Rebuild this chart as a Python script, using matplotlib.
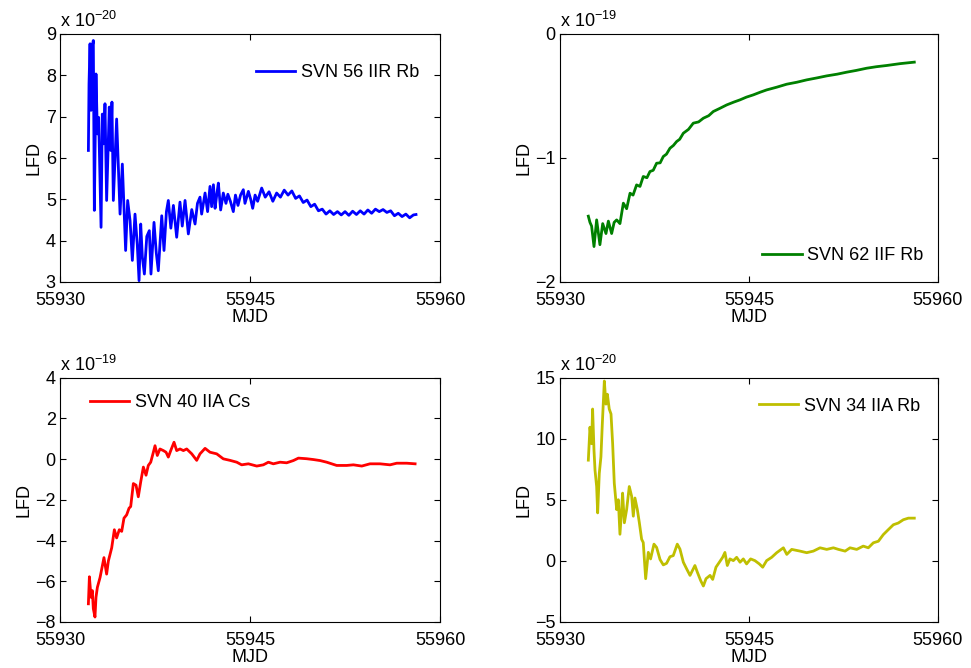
import numpy as np
import matplotlib
matplotlib.use('Agg')
import matplotlib.pyplot as plt

# values, y already in units of the axis multiplier
mjd_56 = [55932.24, 55932.29, 55932.37, 55932.45, 55932.55, 55932.63, 55932.71, 55932.84, 55932.95, 55933.05,
          55933.24, 55933.34, 55933.45, 55933.55, 55933.68, 55933.89, 55934.00, 55934.10, 55934.21, 55934.47,
          55934.74, 55934.92, 55935.18, 55935.34, 55935.53, 55935.71, 55935.92, 55936.10, 55936.24, 55936.37,
          55936.50, 55936.66, 55936.85, 55937.05, 55937.18, 55937.42, 55937.60, 55937.76, 55938.03, 55938.21,
          55938.40, 55938.55, 55938.75, 55938.95, 55939.21, 55939.47, 55939.65, 55939.87, 55940.13, 55940.40,
          55940.66, 55940.85, 55941.05, 55941.18, 55941.45, 55941.65, 55941.84, 55941.97, 55942.11, 55942.24,
          55942.37, 55942.50, 55942.68, 55942.89, 55943.10, 55943.25, 55943.45, 55943.68, 55943.85, 55944.05,
          55944.25, 55944.47, 55944.60, 55944.87, 55945.05, 55945.21, 55945.40, 55945.60, 55945.92, 55946.2,
          55946.5, 55946.8, 55947.1, 55947.4, 55947.7, 55948.0, 55948.3, 55948.6, 55948.9, 55949.2,
          55949.5, 55949.8, 55950.1, 55950.4, 55950.7, 55951.0, 55951.3, 55951.6, 55951.9, 55952.2,
          55952.5, 55952.8, 55953.1, 55953.4, 55953.7, 55954.0, 55954.3, 55954.6, 55954.9, 55955.2,
          55955.5, 55955.8, 55956.1, 55956.4, 55956.7, 55957.0, 55957.3, 55957.6, 55957.9, 55958.1]
lfd_56 = [6.18, 7.79, 8.76, 7.15, 8.70, 8.84, 4.73, 8.03, 6.58, 6.98,
          4.32, 7.06, 6.34, 7.31, 4.97, 7.23, 6.18, 7.35, 4.97, 6.94,
          4.64, 5.85, 3.76, 4.97, 4.48, 3.52, 4.64, 3.90, 3.03, 4.40,
          3.60, 3.19, 4.10, 4.24, 3.19, 4.44, 3.70, 3.27, 4.60, 3.76,
          4.70, 4.97, 4.30, 4.85, 4.08, 4.93, 4.35, 4.97, 4.16, 4.75,
          4.40, 4.90, 5.05, 4.64, 5.15, 4.70, 5.31, 4.82, 5.35, 4.78,
          5.10, 5.39, 4.74, 5.15, 4.90, 5.12, 4.95, 4.70, 5.10, 4.85,
          5.10, 5.23, 4.90, 5.19, 5.00, 4.78, 5.10, 4.95, 5.27, 5.05,
          5.18, 4.95, 5.15, 5.05, 5.22, 5.10, 5.20, 5.02, 5.08, 4.92,
          4.98, 4.82, 4.88, 4.72, 4.76, 4.64, 4.72, 4.63, 4.70, 4.62,
          4.70, 4.61, 4.71, 4.63, 4.72, 4.64, 4.74, 4.66, 4.76, 4.70,
          4.75, 4.68, 4.72, 4.60, 4.66, 4.58, 4.64, 4.55, 4.62, 4.63]

mjd_62 = [55932.25, 55932.38, 55932.51, 55932.70, 55932.91, 55933.17, 55933.39, 55933.65, 55933.84, 55934.10,
          55934.30, 55934.50, 55934.76, 55935.03, 55935.29, 55935.56, 55935.80, 55936.08, 55936.35, 55936.61,
          55936.90, 55937.14, 55937.40, 55937.67, 55937.95, 55938.20, 55938.45, 55938.73, 55939.0, 55939.26,
          55939.5, 55939.79, 55940.2, 55940.58, 55941.0, 55941.38, 55941.8, 55942.17, 55942.7, 55943.23,
          55943.8, 55944.29, 55944.8, 55945.34, 55945.9, 55946.40, 55947.2, 55947.99, 55948.8, 55949.58,
          55950.4, 55951.16, 55952.0, 55952.75, 55953.5, 55954.34, 55955.1, 55955.93, 55957.0, 55958.12]
lfd_62 = [-1.47, -1.52, -1.55, -1.715, -1.50, -1.70, -1.53, -1.61, -1.51, -1.61,
          -1.52, -1.50, -1.53, -1.365, -1.41, -1.285, -1.30, -1.218, -1.23, -1.15,
          -1.16, -1.11, -1.10, -1.043, -1.04, -0.989, -0.97, -0.922, -0.90, -0.868,
          -0.85, -0.801, -0.77, -0.72, -0.71, -0.68, -0.66, -0.626, -0.60, -0.573,
          -0.55, -0.532, -0.51, -0.492, -0.47, -0.452, -0.43, -0.406, -0.39, -0.371,
          -0.355, -0.339, -0.325, -0.309, -0.295, -0.277, -0.265, -0.255, -0.24, -0.228]

mjd_40 = [55932.24, 55932.32, 55932.45, 55932.55, 55932.63, 55932.76, 55932.84, 55932.95, 55933.16, 55933.29,
          55933.47, 55933.68, 55933.82, 55934.08, 55934.29, 55934.47, 55934.68, 55934.87, 55935.05, 55935.26,
          55935.45, 55935.58, 55935.79, 55936.00, 55936.18, 55936.37, 55936.58, 55936.79, 55936.97, 55937.16,
          55937.37, 55937.50, 55937.68, 55937.89, 55938.16, 55938.37, 55938.55, 55938.74, 55939.00, 55939.21,
          55939.47, 55939.74, 55940.00, 55940.40, 55940.79, 55941.05, 55941.45, 55941.84, 55942.37, 55942.89,
          55943.42, 55943.95, 55944.34, 55944.87, 55945.53, 55946.05, 55946.45, 55946.84, 55947.37, 55947.89,
          55948.42, 55948.82, 55949.47, 55950.00, 55950.53, 55951.05, 55951.84, 55952.63, 55953.16, 55953.82,
          55954.47, 55955.26, 55956.05, 55956.58, 55957.37, 55958.03]
lfd_40 = [-7.11, -5.78, -6.79, -6.46, -7.35, -7.76, -6.79, -6.30, -5.82, -5.41,
          -4.84, -5.65, -5.00, -4.36, -3.47, -3.87, -3.47, -3.55, -2.90, -2.74,
          -2.41, -2.33, -1.20, -1.28, -1.85, -1.12, -0.39, -0.79, -0.31, -0.15,
          0.34, 0.66, 0.18, 0.50, 0.42, 0.34, 0.10, 0.42, 0.83, 0.42,
          0.50, 0.42, 0.50, 0.26, -0.06, 0.26, 0.53, 0.34, 0.26, 0.015,
          -0.06, -0.15, -0.28, -0.23, -0.34, -0.28, -0.15, -0.23, -0.15, -0.18,
          -0.07, 0.05, 0.02, -0.02, -0.07, -0.15, -0.31, -0.31, -0.28, -0.34,
          -0.23, -0.23, -0.28, -0.20, -0.20, -0.23]

mjd_34 = [55932.25, 55932.38, 55932.51, 55932.59, 55932.70, 55932.78, 55932.91, 55932.99, 55933.12, 55933.25,
          55933.36, 55933.52, 55933.65, 55933.76, 55933.91, 55934.05, 55934.18, 55934.31, 55934.50, 55934.63,
          55934.76, 55934.89, 55934.97, 55935.11, 55935.29, 55935.50, 55935.69, 55935.82, 55935.95, 55936.14,
          55936.30, 55936.48, 55936.61, 55936.80, 55937.01, 55937.19, 55937.46, 55937.67, 55937.94, 55938.20,
          55938.46, 55938.73, 55938.99, 55939.31, 55939.52, 55939.79, 55940.05, 55940.32, 55940.71, 55940.90,
          55941.16, 55941.38, 55941.59, 55941.91, 55942.12, 55942.38, 55942.65, 55942.91, 55943.09, 55943.28,
          55943.49, 55943.76, 55944.02, 55944.29, 55944.55, 55944.81, 55945.13, 55945.47, 55945.82, 55946.09,
          55946.40, 55946.80, 55947.20, 55947.73, 55948.00, 55948.39, 55949.05, 55949.58, 55950.11, 55950.64,
          55951.17, 55951.70, 55952.10, 55952.63, 55953.02, 55953.55, 55954.07, 55954.47, 55954.87, 55955.27,
          55955.66, 55956.06, 55956.46, 55956.85, 55957.25, 55957.65, 55958.12]
lfd_34 = [8.25, 10.95, 9.60, 12.44, 9.06, 7.44, 6.09, 3.93, 7.17, 8.52,
          11.22, 14.73, 12.84, 13.65, 12.44, 12.03, 9.60, 6.36, 4.20, 5.01,
          2.18, 4.20, 5.55, 3.12, 4.20, 6.09, 5.28, 3.66, 5.15, 4.20,
          3.12, 1.77, 1.50, -1.46, 0.70, 0.16, 1.37, 1.10, 0.11, -0.33,
          -0.20, 0.34, 0.43, 1.37, 0.97, -0.11, -0.65, -1.19, -0.38, -0.92,
          -1.60, -2.06, -1.46, -1.19, -1.52, -0.52, -0.11, 0.29, 0.69, -0.38,
          0.16, 0.02, 0.29, -0.11, 0.16, -0.25, 0.16, 0.02, -0.25, -0.52,
          0.02, 0.29, 0.67, 1.07, 0.53, 0.94, 0.80, 0.67, 0.80, 1.07,
          0.94, 1.07, 0.94, 0.80, 1.07, 0.94, 1.21, 1.07, 1.48, 1.61,
          2.15, 2.56, 2.96, 3.10, 3.37, 3.50, 3.50]

# name, colour, y range, y ticks, exponent, legend corner, legend anchor (axes fraction)
series = [
    (mjd_56, lfd_56, 'SVN 56 IIR Rb', (0, 0, 1), [3, 9], range(3, 10), -20, 'upper right', (0.945, 0.878)),
    (mjd_62, lfd_62, 'SVN 62 IIF Rb', (0, 0.5, 0), [-2, 0], [-2, -1, 0], -19, 'lower right', (0.962, 0.072)),
    (mjd_40, lfd_40, 'SVN 40 IIA Cs', (1, 0, 0), [-8, 4], range(-8, 5, 2), -19, 'upper left', (0.078, 0.934)),
    (mjd_34, lfd_34, 'SVN 34 IIA Rb', (0.75, 0.75, 0), [-5, 15], range(-5, 16, 5), -20, 'upper right', (0.952, 0.918)),
]

plt.rcParams['font.family'] = ['Liberation Sans', 'DejaVu Sans']
plt.rcParams['font.size'] = 13

fig = plt.figure(figsize=(9.71, 6.68), dpi=100)
# axes boxes in figure fractions (left, bottom, width, height)
boxes = [(0.0618, 0.578, 0.3914, 0.3713),
         (0.5767, 0.578, 0.3893, 0.3713),
         (0.0618, 0.0690, 0.3914, 0.3655),
         (0.5767, 0.0690, 0.3893, 0.3655)]

for box, (x, y, name, color, ylim, yticks, expo, loc, anchor) in zip(boxes, series):
    ax = fig.add_axes(box)
    ax.plot(x, y, color=color, lw=2, label=name)
    ax.set_xlim(55930, 55960)
    ax.set_ylim(ylim)
    ax.set_xticks([55930, 55945, 55960])
    ax.set_yticks(list(yticks))
    ax.tick_params(direction='in', top=True, right=True, length=4, width=0.8)
    ax.tick_params(axis='x', pad=7)
    ax.tick_params(axis='y', pad=3)
    ax.get_xaxis().get_major_formatter().set_useOffset(False)
    ax.set_xlabel('MJD', labelpad=0)
    ax.set_ylabel('LFD', labelpad=2)
    ax.text(0.0, 1.012, r'x 10$^{\mathregular{%d}}$' % expo, transform=ax.transAxes,
            ha='left', va='bottom', fontsize=13)
    ax.legend(loc=loc, bbox_to_anchor=anchor, frameon=False, handlelength=2.2,
              handletextpad=0.3, borderpad=0, borderaxespad=0)

plt.savefig('out.png', dpi=100)
